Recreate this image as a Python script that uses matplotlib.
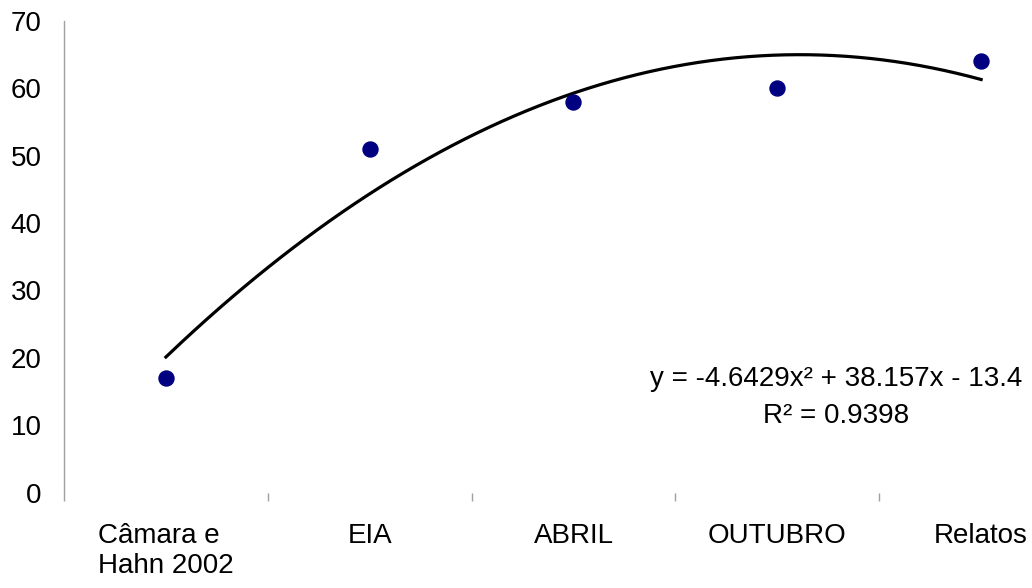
import numpy as np
import matplotlib.pyplot as plt
from matplotlib.ticker import FixedLocator

categories = ['Câmara e\nHahn 2002', 'EIA', 'ABRIL', 'OUTUBRO', 'Relatos']
values = [17, 51, 58, 60, 64]

plt.rcParams['font.family'] = ['Liberation Sans', 'DejaVu Sans']

x = np.arange(1, len(values) + 1)
y = np.array(values, dtype=float)

# second order polynomial trendline
coef = np.polyfit(x, y, 2)
fit = np.polyval(coef, x)
r2 = 1 - np.sum((y - fit) ** 2) / np.sum((y - y.mean()) ** 2)


def term(v, first=False):
    s = f"{abs(v):.5g}"
    if first:
        return ('-' if v < 0 else '') + s
    return (' - ' if v < 0 else ' + ') + s


eq = 'y = ' + term(coef[0], True) + 'x²' + term(coef[1]) + 'x' + term(coef[2])

fig = plt.figure(figsize=(10.32, 5.88), dpi=100)
ax = fig.add_axes([64 / 1032, 0.1624, (1083 - 64) / 1032, 0.8019])

xs = np.linspace(1, len(values), 200)
ax.plot(xs, np.polyval(coef, xs), color='black', lw=2.3, zorder=2)
ax.plot(x, y, 'o', color='#000080', ms=10.8, zorder=3)

ax.set_xlim(0.5, len(values) + 0.5)
ax.set_ylim(0, 70)
ax.set_yticks(range(0, 71, 10))
ax.set_xticks(x)
ax.set_xticklabels(categories, multialignment='left')
ax.xaxis.set_minor_locator(FixedLocator(np.arange(0.5, len(values), 1.0)))

for side in ['top', 'right', 'bottom']:
    ax.spines[side].set_visible(False)
ax.spines['left'].set_color('#a0a0a0')
ax.spines['left'].set_linewidth(1.0)

ax.tick_params(axis='y', length=0, pad=16, labelsize=20)
ax.tick_params(axis='x', which='major', length=0, pad=22, labelsize=20)
ax.tick_params(axis='x', which='minor', length=6, width=1.0, color='#a0a0a0',
               direction='out')

# equation and R² of the trendline
ax.text(4.29, 14.1, eq + '\n' + f'R² = {r2:.4f}', ha='center', va='center',
        fontsize=20, linespacing=1.55)

fig.savefig('out.png', dpi=100)
